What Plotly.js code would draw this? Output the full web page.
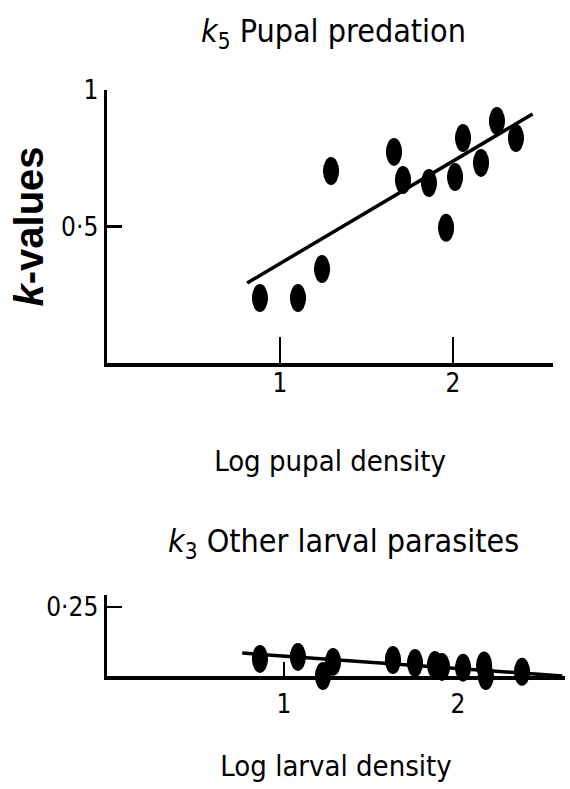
<!DOCTYPE html>
<html><head><meta charset="utf-8">
<script src="https://cdn.plot.ly/plotly-3.0.1.min.js"></script>
<style>html,body{margin:0;padding:0;background:#fff}</style>
</head><body><div id="chart" style="width:570px;height:789px"></div>
<script>
// k5 Pupal predation
const pupalLogDensity = [0.884, 1.104, 1.243, 1.295, 1.659, 1.711, 1.861, 1.960, 2.012, 2.058, 2.162, 2.254, 2.364];
const pupalK5 = [0.238, 0.238, 0.344, 0.703, 0.773, 0.670, 0.659, 0.495, 0.681, 0.824, 0.733, 0.886, 0.824];
const pupalFitX = [0.81, 2.46];
const pupalFitY = [0.293, 0.912];
// k3 Other larval parasites
const larvalLogDensity = [0.862, 1.080, 1.224, 1.282, 1.626, 1.753, 1.868, 1.908, 2.029, 2.150, 2.160, 2.368];
const larvalK3 = [0.062, 0.069, 0.000, 0.051, 0.058, 0.047, 0.040, 0.033, 0.030, 0.038, 0.000, 0.015];
const larvalFitX = [0.76, 2.60];
const larvalFitY = [0.083, 0.000];
// ticks
const xTickVals = [1, 2];
const xTickText = ['1', '2'];
const topYTickVals = [0.5, 1];
const topYTickText = ['0·5', '1'];
const botYTickVals = [0.25];
const botYTickText = ['0·25'];

const W = 570, H = 789;
const NARROW = "'DejaVu Sans Condensed', 'DejaVu Sans', sans-serif";
const BOLD = "'Liberation Sans', Arial, sans-serif";
const px = v => v / W, py = v => 1 - v / H;

const topYDomain = [py(363), py(90)];
const botYDomain = [py(676), py(595)];
const botYRange = [0, 81 / 276];
const extraPx = 32;
const helperYDomain = [py(676 + extraPx), py(595)];
const helperYRange = [-extraPx / 276, 81 / 276];
const botXRange = [-0.0172, 2.615];

const traces = [
  {x: pupalLogDensity, y: pupalK5, xaxis: 'x', yaxis: 'y', type: 'scatter', mode: 'markers',
   marker: {color: '#000', size: 16}, cliponaxis: false, name: 'k5', showlegend: false},
  {x: pupalFitX, y: pupalFitY, xaxis: 'x', yaxis: 'y', type: 'scatter', mode: 'lines',
   line: {color: '#000', width: 3.5}, cliponaxis: false, showlegend: false},
  {x: larvalLogDensity, y: larvalK3, xaxis: 'x2', yaxis: 'y2', type: 'scatter', mode: 'markers',
   marker: {color: '#000', size: 16}, cliponaxis: false, name: 'k3', showlegend: false},
  {x: larvalFitX, y: larvalFitY, xaxis: 'x2', yaxis: 'y2', type: 'scatter', mode: 'lines',
   line: {color: '#000', width: 3.5}, cliponaxis: false, showlegend: false}
];

function ellipses(xs, ys, xref, yref) {
  return xs.map((xv, i) => ({
    type: 'circle', xref: xref, yref: yref, xsizemode: 'pixel', ysizemode: 'pixel',
    xanchor: xv, yanchor: ys[i], x0: -8, x1: 8, y0: -14, y1: 14,
    fillcolor: '#000', line: {width: 0}
  }));
}
const shapes = ellipses(pupalLogDensity, pupalK5, 'x', 'y')
  .concat(ellipses(larvalLogDensity, larvalK3, 'x3', 'y3'));

const tickFont = {family: NARROW, size: 26, color: '#000', stretch: 'condensed'};
const titleFont = {family: NARROW, size: 29, color: '#000', stretch: 'condensed'};

const baseAxis = {showline: true, linecolor: '#000', linewidth: 3.5, showgrid: false, zeroline: false,
  ticks: 'inside', tickcolor: '#000', tickfont: tickFont, fixedrange: true};

const layout = {
  width: W, height: H, margin: {l: 0, r: 0, t: 0, b: 0},
  paper_bgcolor: '#fff', plot_bgcolor: 'rgba(0,0,0,0)', showlegend: false,
  xaxis: Object.assign({}, baseAxis, {domain: [px(107), px(553)], range: [0, 446 / 173], anchor: 'y',
    tickvals: xTickVals, ticktext: xTickText, ticklen: 26, tickwidth: 2, ticklabelstandoff: -6,
    title: {text: 'Log pupal density', font: titleFont, standoff: 55}}),
  yaxis: Object.assign({}, baseAxis, {domain: topYDomain, range: [0, 1], anchor: 'x',
    tickvals: topYTickVals, ticktext: topYTickText, ticklen: 15, tickwidth: 3,
    title: {text: '<i>k</i>-values', font: {family: BOLD, size: 40, color: '#000', weight: 'bold'}, standoff: 6}}),
  xaxis2: Object.assign({}, baseAxis, {domain: [px(107), px(565)], range: botXRange, anchor: 'y2',
    tickvals: xTickVals, ticktext: xTickText, ticklen: 14, tickwidth: 2, ticklabelstandoff: 2,
    title: {text: 'Log larval density', font: titleFont, standoff: 39}}),
  yaxis2: Object.assign({}, baseAxis, {domain: botYDomain, range: botYRange, anchor: 'x2',
    tickvals: botYTickVals, ticktext: botYTickText, ticklen: 15, tickwidth: 2}),
  xaxis3: {domain: [px(107), px(565)], range: botXRange, anchor: 'y3', visible: false, fixedrange: true},
  yaxis3: {domain: helperYDomain, range: helperYRange, anchor: 'x3', visible: false, fixedrange: true},
  shapes: shapes,
  annotations: [
    {text: '<i>k</i><sub>5</sub> Pupal predation', xref: 'paper', yref: 'paper', x: px(333), y: py(33),
     xanchor: 'center', yanchor: 'middle', showarrow: false, font: {family: NARROW, size: 32, color: '#000', stretch: 'condensed'}},
    {text: '<i>k</i><sub>3</sub> Other larval parasites', xref: 'paper', yref: 'paper', x: px(343), y: py(543),
     xanchor: 'center', yanchor: 'middle', showarrow: false, font: {family: NARROW, size: 32, color: '#000', stretch: 'condensed'}}
  ]
};

Plotly.newPlot('chart', traces, layout, {staticPlot: true, displayModeBar: false});
</script></body></html>
